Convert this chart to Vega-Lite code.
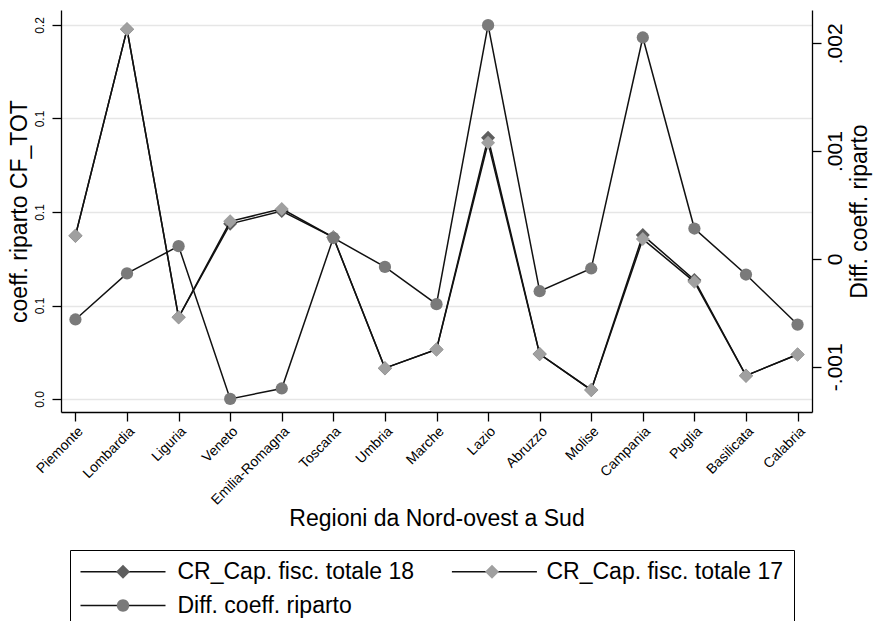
{
  "$schema": "https://vega.github.io/schema/vega-lite/v6.json",
  "width": 751,
  "height": 402,
  "autosize": {"type": "none"},
  "padding": {"left": 61, "top": 10, "right": 63, "bottom": 209},
  "background": "white",
  "config": {
    "font": "Liberation Sans",
    "view": {"stroke": null},
    "axis": {"domainColor": "#000", "domainWidth": 1.3, "tickColor": "#000", "tickWidth": 1.3, "labelColor": "#000", "titleColor": "#000", "titleFontWeight": "normal", "labelFont": "Liberation Sans", "titleFont": "Liberation Sans"},
    "legend": {"labelFont": "Liberation Sans", "labelColor": "#000"}
  },
  "data": {"values": [
    {"region": "Piemonte", "v18": 0.0924, "v17": 0.0924, "diff": -0.000562},
    {"region": "Lombardia", "v18": 0.1586, "v17": 0.1586, "diff": -0.000135},
    {"region": "Liguria", "v18": 0.0662, "v17": 0.0662, "diff": 0.000118},
    {"region": "Veneto", "v18": 0.0962, "v17": 0.0970, "diff": -0.001299},
    {"region": "Emilia-Romagna", "v18": 0.1003, "v17": 0.1010, "diff": -0.001202},
    {"region": "Toscana", "v18": 0.0919, "v17": 0.0919, "diff": 0.000195},
    {"region": "Umbria", "v18": 0.0499, "v17": 0.0499, "diff": -0.000074},
    {"region": "Marche", "v18": 0.0559, "v17": 0.0559, "diff": -0.00042},
    {"region": "Lazio", "v18": 0.1238, "v17": 0.1222, "diff": 0.002168},
    {"region": "Abruzzo", "v18": 0.0544, "v17": 0.0544, "diff": -0.0003},
    {"region": "Molise", "v18": 0.0429, "v17": 0.0429, "diff": -0.000089},
    {"region": "Campania", "v18": 0.0926, "v17": 0.0913, "diff": 0.002054},
    {"region": "Puglia", "v18": 0.0782, "v17": 0.0776, "diff": 0.000282},
    {"region": "Basilicata", "v18": 0.0475, "v17": 0.0475, "diff": -0.000145},
    {"region": "Calabria", "v18": 0.0543, "v17": 0.0543, "diff": -0.000609}
  ]},
  "layer": [
    {
      "encoding": {
        "x": {"field": "region", "type": "nominal",
          "scale": {"type": "point", "padding": 0.28, "domain": ["Piemonte","Lombardia","Liguria","Veneto","Emilia-Romagna","Toscana","Umbria","Marche","Lazio","Abruzzo","Molise","Campania","Puglia","Basilicata","Calabria"]},
          "axis": {"labelAngle": -45, "labelFontSize": 14, "tickSize": 9, "labelPadding": 3, "title": "Regioni da Nord-ovest a Sud", "titleFontSize": 23, "titleY": 106, "titleBaseline": "middle", "grid": false}}
      },
      "layer": [
        {"mark": {"type": "line", "color": "#111", "strokeWidth": 1.5},
         "encoding": {"y": {"field": "v18", "type": "quantitative",
           "scale": {"domain": [0.03583, 0.16481], "nice": false, "zero": false},
           "axis": {"orient": "left", "values": [0.04, 0.07, 0.1, 0.13, 0.16], "format": ".1f", "labelAngle": 270, "labelAlign": "center", "labelBaseline": "bottom", "labelFontSize": 12, "labelPadding": 6, "tickSize": 9, "grid": true, "gridColor": "#e6e6e6", "gridWidth": 1.5, "title": "coeff. riparto CF_TOT", "titleFontSize": 23, "titleAngle": 270, "titleX": -42, "titleY": 201, "titleAlign": "center", "titleBaseline": "middle"}}}},
        {"mark": {"type": "point", "shape": "diamond", "filled": true, "size": 196, "color": "#5e5e5e", "opacity": 1}, "encoding": {"y": {"field": "v18", "type": "quantitative"}}},
        {"mark": {"type": "line", "color": "#111", "strokeWidth": 1.5}, "encoding": {"y": {"field": "v17", "type": "quantitative"}}},
        {"mark": {"type": "point", "shape": "diamond", "filled": true, "size": 196, "color": "#a0a0a0", "opacity": 1}, "encoding": {"y": {"field": "v17", "type": "quantitative"}}}
      ]
    },
    {
      "encoding": {
        "x": {"field": "region", "type": "nominal",
          "scale": {"type": "point", "padding": 0.28, "domain": ["Piemonte","Lombardia","Liguria","Veneto","Emilia-Romagna","Toscana","Umbria","Marche","Lazio","Abruzzo","Molise","Campania","Puglia","Basilicata","Calabria"]},
          "axis": {"labelAngle": -45, "labelFontSize": 14, "tickSize": 9, "labelPadding": 3, "title": "Regioni da Nord-ovest a Sud", "titleFontSize": 23, "titleY": 106, "titleBaseline": "middle", "grid": false}}
      },
      "layer": [
        {"mark": {"type": "line", "color": "#111", "strokeWidth": 1.5},
         "encoding": {"y": {"field": "diff", "type": "quantitative",
           "scale": {"domain": [-0.0014202, 0.0023089], "nice": false, "zero": false},
           "axis": {"orient": "right", "values": [-0.001, 0, 0.001, 0.002], "labelExpr": "datum.value > 0.0015 ? '.002' : datum.value > 0.0005 ? '.001' : datum.value > -0.0005 ? '0' : '-.001'", "labelAngle": 270, "labelAlign": "center", "labelBaseline": "top", "labelFontSize": 21, "labelPadding": 3, "tickSize": 9, "grid": false, "title": "Diff. coeff. riparto", "titleFontSize": 23, "titleAngle": 270, "titleX": 47, "titleY": 201, "titleAlign": "center", "titleBaseline": "middle"}}}},
        {"mark": {"type": "point", "shape": "circle", "filled": true, "size": 150, "color": "#7a7a7a", "opacity": 1}, "encoding": {"y": {"field": "diff", "type": "quantitative"}}}
      ]
    },
    {
      "data": {"values": [{"k": "CR_Cap. fisc. totale 18"}, {"k": "CR_Cap. fisc. totale 17"}, {"k": "Diff. coeff. riparto"}]},
      "mark": {"type": "point", "shape": "M-4.25,0H4.25", "filled": false, "opacity": 0},
      "encoding": {
        "stroke": {"field": "k", "type": "nominal", "sort": null, "scale": {"range": ["#111", "#111", "#111"]},
          "legend": {"orient": "none", "legendX": 9, "legendY": 540, "title": null, "columns": 2, "direction": "horizontal", "padding": 10, "symbolSize": 400, "symbolType": "M-4.25,0H4.25", "symbolStrokeWidth": 1.3, "symbolOpacity": 1, "symbolOffset": 31.5, "labelOffset": 43, "columnPadding": 270.4, "rowPadding": 10, "labelFontSize": 23, "labelLimit": 400, "labelExpr": "''"}}
      }
    },
    {
      "data": {"values": [{"serie": "CR_Cap. fisc. totale 18"}, {"serie": "CR_Cap. fisc. totale 17"}, {"serie": "Diff. coeff. riparto"}]},
      "mark": {"type": "point", "filled": true, "opacity": 0},
      "encoding": {
        "color": {"field": "serie", "type": "nominal",
          "scale": {"domain": ["CR_Cap. fisc. totale 18", "CR_Cap. fisc. totale 17", "Diff. coeff. riparto"], "range": ["#5e5e5e", "#a0a0a0", "#7a7a7a"]},
          "legend": {"orient": "none", "legendX": 9, "legendY": 540, "title": null, "columns": 2, "direction": "horizontal", "padding": 10, "strokeColor": "#000", "symbolSize": 400, "symbolStrokeWidth": 1.3, "symbolStrokeColor": "transparent", "symbolOpacity": 1, "symbolOffset": 31.5, "labelOffset": 43, "columnPadding": 34, "rowPadding": 10, "labelFontSize": 23, "labelLimit": 400}},
        "shape": {"field": "serie", "type": "nominal",
          "scale": {"domain": ["CR_Cap. fisc. totale 18", "CR_Cap. fisc. totale 17", "Diff. coeff. riparto"], "range": ["M0,-0.7L0.7,0L0,0.7L-0.7,0Z", "M0,-0.7L0.7,0L0,0.7L-0.7,0Z", "M0.62,0A0.62,0.62,0,1,1,-0.62,0A0.62,0.62,0,1,1,0.62,0Z"]},
          "legend": {"orient": "none", "legendX": 9, "legendY": 540, "title": null, "columns": 2, "direction": "horizontal", "padding": 10, "strokeColor": "#000", "symbolSize": 400, "symbolStrokeWidth": 1.3, "symbolStrokeColor": "transparent", "symbolOpacity": 1, "symbolOffset": 31.5, "labelOffset": 43, "columnPadding": 34, "rowPadding": 10, "labelFontSize": 23, "labelLimit": 400}}
      }
    }
  ],
  "resolve": {"scale": {"y": "independent"}},
  "encoding": {}
}
